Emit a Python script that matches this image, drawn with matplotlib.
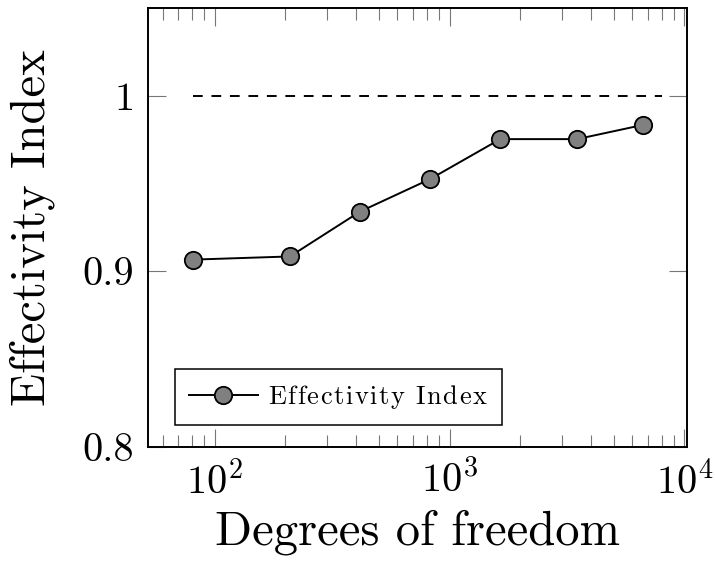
import matplotlib
matplotlib.use("Agg")
import matplotlib.pyplot as plt
from matplotlib.ticker import LogLocator, FixedLocator, FixedFormatter, NullFormatter

plt.rcParams["font.family"] = "cmr10"
plt.rcParams["mathtext.fontset"] = "cm"
plt.rcParams["axes.formatter.use_mathtext"] = True

# refinement levels
dofs = [81, 209, 416, 826, 1644, 3490, 6670]
effectivity = [0.9067, 0.9085, 0.9341, 0.9526, 0.9754, 0.9754, 0.9835]

ref_x = [81, 8000]
ref_y = [1.0, 1.0]

y_ticks = [0.8, 0.9, 1.0]
y_tick_labels = ["0.8", "0.9", "1"]

series_name = "Effectivity Index"


def spaced(text, gap=0.07):
    # letter-spaced roman text through mathtext
    parts = [r"\ " if c == " " else r"\mathrm{%s}" % c for c in text]
    return "$" + (r"\hspace{%g}" % gap).join(parts) + "$"


fig = plt.figure(figsize=(7.15, 5.61), dpi=100)
ax = fig.add_axes([0.2074, 0.2037, 0.7539, 0.7815])

ax.plot(ref_x, ref_y, color="black", lw=1.4, dashes=(5, 4.5))
ax.plot(dofs, effectivity, color="black", lw=1.4, marker="o", markersize=12.5,
        markerfacecolor="#808080", markeredgecolor="black", markeredgewidth=1.3,
        label=spaced(series_name))

ax.set_xscale("log")
ax.set_xlim(52.1, 10300)
ax.set_ylim(0.8, 1.05)

ax.xaxis.set_major_locator(LogLocator(base=10, numticks=10))
ax.xaxis.set_minor_locator(LogLocator(base=10, subs=range(2, 10), numticks=20))
ax.xaxis.set_minor_formatter(NullFormatter())
ax.yaxis.set_major_locator(FixedLocator(y_ticks))
ax.yaxis.set_major_formatter(FixedFormatter(y_tick_labels))

ax.tick_params(which="both", direction="in", top=True, right=True,
               color="#777777", width=0.8, labelsize=29, pad=10)
ax.tick_params(which="major", length=13)
ax.tick_params(which="minor", length=8.5)

for sp in ax.spines.values():
    sp.set_linewidth(1.4)

ax.set_xlabel("Degrees of freedom", fontsize=35, labelpad=6)
ax.set_ylabel("Effectivity Index", fontsize=35, labelpad=20)

leg = ax.legend(loc="lower left", bbox_to_anchor=(0.05, 0.05), borderaxespad=0,
                fancybox=False, edgecolor="black", framealpha=1,
                prop={"size": 19}, handlelength=2.6, handletextpad=0.4,
                borderpad=0.52)
leg.get_frame().set_linewidth(1.1)

fig.savefig("out.png", dpi=100)
